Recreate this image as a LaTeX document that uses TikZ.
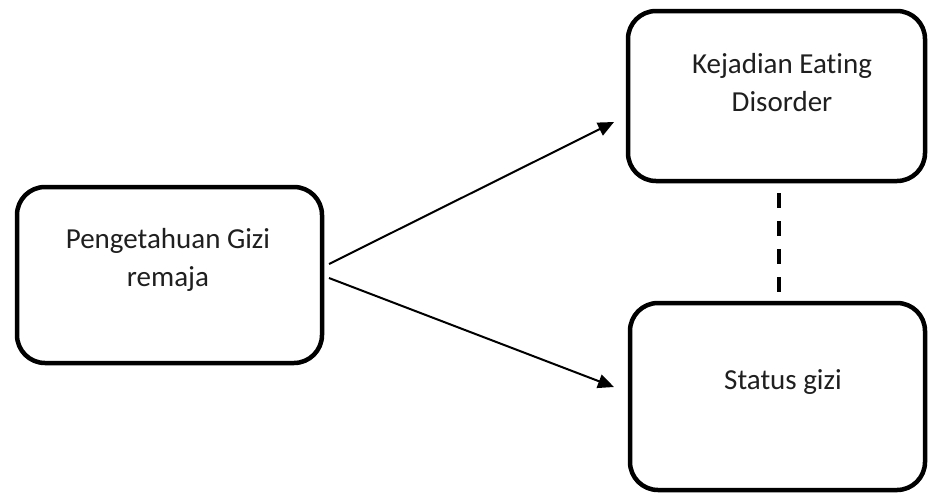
\documentclass[tikz,border=0pt]{standalone}
\usepackage{fontspec}
\setmainfont[Ligatures=NoCommon]{Carlito}
\usetikzlibrary{arrows.meta}
\begin{document}
\begin{tikzpicture}[x=1pt,y=-1pt,
  box/.style={draw=black,line width=4.5pt,rounded corners=28pt,inner sep=0pt,outer sep=0pt},
  txt/.style={align=center,font=\fontsize{29}{38}\selectfont,text=black!88},
  arrow/.style={line width=2pt,-{Triangle[length=16pt,width=14pt]}},
  dashline/.style={line width=4pt,dash pattern=on 15pt off 13pt}]
\useasboundingbox (0,0) rectangle (928,493);
\fill[white] (0,0) rectangle (928,493);
% boxes
\node[box,minimum width=305pt,minimum height=176pt] (L) at (169.5,275) {};
\node[box,minimum width=297pt,minimum height=170pt] (T) at (776.5,96) {};
\node[box,minimum width=295pt,minimum height=187pt] (B) at (777.5,396.5) {};
% texts
\node[txt] (Lt) at (168,260) {Pengetahuan Gizi\\remaja};
\node[txt] (Tt) at (782,83) {Kejadian Eating\\Disorder};
\node[txt] (Bt) at (783,382) {Status gizi};
% connector ends
\coordinate (s1) at (329,264);
\coordinate (e1) at (614,122);
\coordinate (s2) at (329,278);
\coordinate (e2) at (614,387);
\coordinate (d1) at (779,193);
\coordinate (d2) at (779,292);
\draw[arrow] (s1) -- (e1);
\draw[arrow] (s2) -- (e2);
\draw[dashline] (d1) -- (d2);
\end{tikzpicture}
\end{document}
